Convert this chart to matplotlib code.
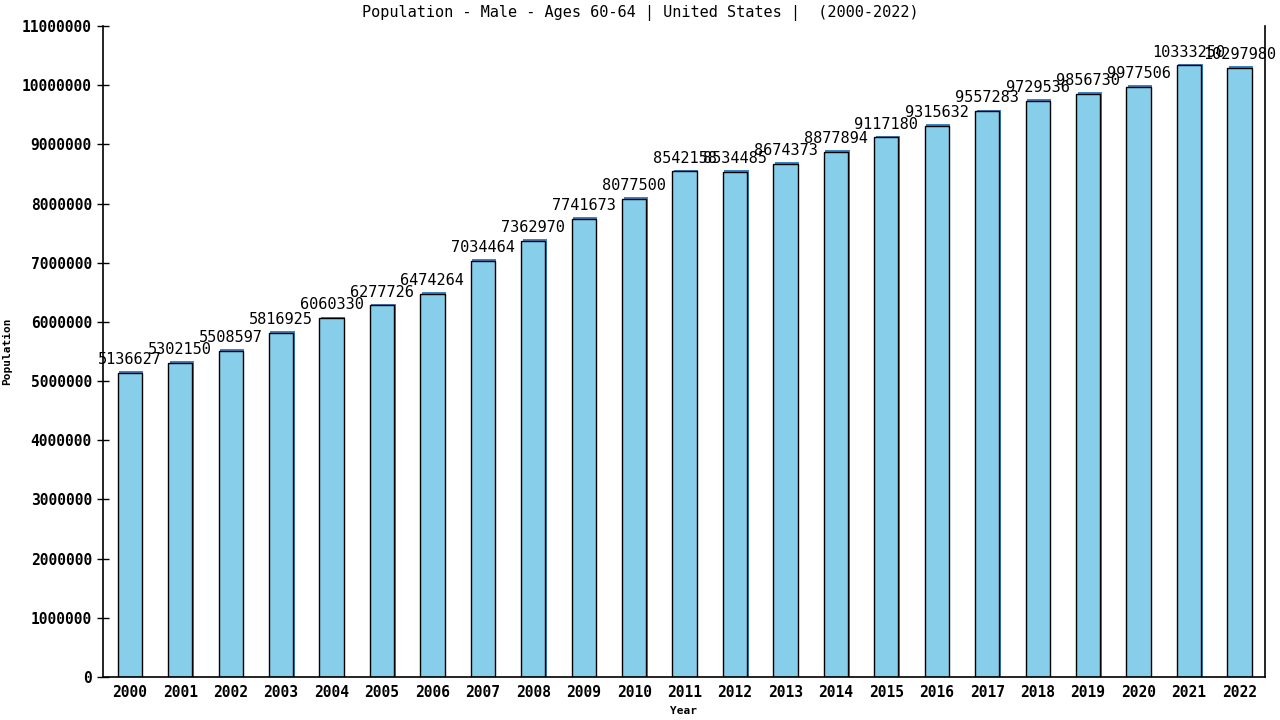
import numpy as np
import matplotlib
matplotlib.use('Agg')
import matplotlib.pyplot as plt

years = [str(y) for y in range(2000, 2023)]
population = [5136627, 5302150, 5508597, 5816925, 6060330, 6277726, 6474264,
              7034464, 7362970, 7741673, 8077500, 8542158, 8534485, 8674373,
              8877894, 9117180, 9315632, 9557283, 9729536, 9856730, 9977506,
              10333250, 10297980]
yticks = list(range(0, 11000001, 1000000))

plt.rcParams['font.family'] = 'DejaVu Sans Mono'

fig = plt.figure(figsize=(12.8, 7.2), dpi=100)
ax = fig.add_axes([0.0805, 0.0597, 0.9075, 0.9042])

x = np.arange(len(years))
# thin blue shadow behind each bar
ax.bar(x + 0.03, [v + 30000 for v in population], width=0.48, color='#3a86c8',
       edgecolor='none', align='center', zorder=1)
ax.bar(x, population, width=0.48, color='#87ceeb', edgecolor='black',
       linewidth=1, zorder=2)

for xi, v in zip(x, population):
    ax.text(xi, v + 100000, str(v), ha='center', va='bottom', fontsize=11,
            color='black', zorder=3)

ax.set_xlim(-0.53, 22.5)
ax.set_ylim(0, 11000000)
ax.set_xticks(x)
ax.set_xticklabels(years, fontsize=10.5, fontweight='bold')
ax.set_yticks(yticks)
ax.set_yticklabels([str(t) for t in yticks], fontsize=10.5, fontweight='bold')
ax.tick_params(axis='x', length=0, pad=6)
ax.tick_params(axis='y', direction='inout', length=8, width=1, pad=4)

ax.spines['top'].set_visible(False)
for s in ['left', 'right', 'bottom']:
    ax.spines[s].set_linewidth(1.2)

ax.set_xlabel('Year', fontsize=8, fontweight='bold', labelpad=4)
ax.set_ylabel('Population', fontsize=8, fontweight='bold')
ax.yaxis.set_label_coords(-0.078, 0.5)
fig.text(0.5, 0.982, 'Population - Male - Ages 60-64 | United States |  (2000-2022)',
         ha='center', va='center', fontsize=11)

fig.savefig('out.png', dpi=100)
